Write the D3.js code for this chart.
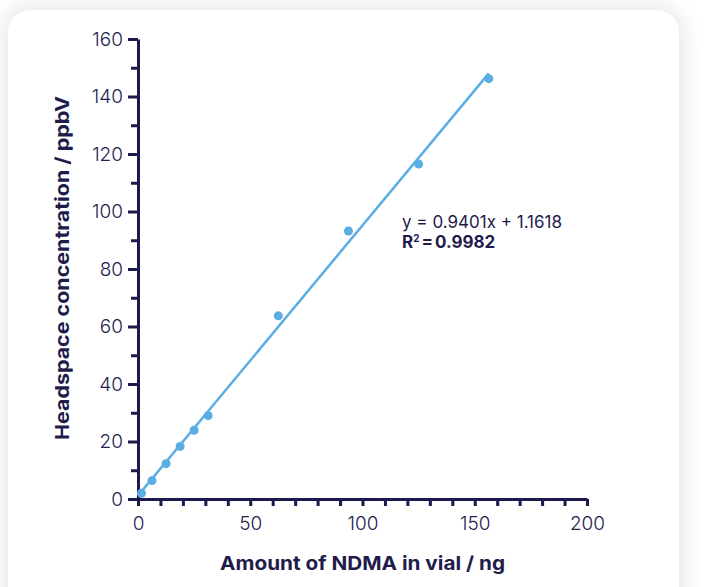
<!DOCTYPE html>
<html>
<head>
<meta charset="utf-8">
<script src="https://cdn.jsdelivr.net/npm/d3@7"></script>
<style>
  html, body { margin: 0; padding: 0; background: #ffffff; width: 715px; height: 587px; overflow: hidden; }
  .card {
    position: absolute; left: 8px; top: 10px; width: 671px; height: 620px;
    background: #ffffff; border-radius: 22px;
    box-shadow: 0 0 22px 4px rgba(0,0,0,0.10);
  }
  svg { position: absolute; left: 0; top: 0; }
  .tick text { font-family: Inter, "Noto Sans", sans-serif; font-weight: 300; font-size: 19px; fill: #25224f; }
  .title { font-family: Inter, "Liberation Sans", sans-serif; font-weight: 700; font-size: 19px; fill: #1f1c4c; }
  .eq { font-family: Inter, "Noto Sans", sans-serif; font-size: 17px; fill: #1f1c4c; }
</style>
</head>
<body>
<div class="card"></div>
<svg id="chart" width="715" height="587"></svg>
<script>
// NDMA spiked into vial (ng) vs measured headspace concentration (ppbV)
const amountNg = [1.56, 6.25, 12.5, 18.75, 25, 31.25, 62.5, 93.75, 125, 156.25];
const headspacePpbv = [2.0, 6.4, 12.3, 18.3, 23.9, 29.0, 63.7, 93.2, 116.5, 146.2];

// Linear fit reported on the chart
const slope = 0.9401;
const intercept = 1.1618;
const rSquared = "0.9982";

const xMajorTicks = [0, 50, 100, 150, 200];
const yMajorTicks = [0, 20, 40, 60, 80, 100, 120, 140, 160];

const axisColor = "#1c1a4b";
const seriesColor = "#5aaee3";

const margin = { left: 138, top: 39, right: 128, bottom: 88 };
const width = 715 - margin.left - margin.right;
const height = 587 - margin.top - margin.bottom;

const svg = d3.select("#chart");
const g = svg.append("g").attr("transform", `translate(${margin.left},${margin.top})`);

const x = d3.scaleLinear().domain([0, 200]).range([0, width]);
const y = d3.scaleLinear().domain([0, 160]).range([height, 0]);

// Minor ticks every 10 units
const xMinor = d3.range(0, 201, 10);
const yMinor = d3.range(10, 160, 20);

const xAxis = g.append("g")
  .attr("transform", `translate(0,${height})`)
  .call(d3.axisBottom(x).tickValues(xMinor).tickSize(7).tickSizeOuter(0).tickPadding(11)
    .tickFormat(d => xMajorTicks.includes(d) ? d : ""));

const yAxisMinor = g.append("g")
  .call(d3.axisLeft(y).tickValues(yMinor).tickSize(7).tickSizeOuter(0).tickFormat(""));
yAxisMinor.select(".domain").remove();

const yAxis = g.append("g")
  .call(d3.axisLeft(y).tickValues(yMajorTicks).tickSize(10).tickSizeOuter(0).tickPadding(5));

[xAxis, yAxis, yAxisMinor].forEach(ax => {
  ax.selectAll(".domain").attr("stroke", axisColor).attr("stroke-width", 3);
  ax.selectAll(".tick line").attr("stroke", axisColor).attr("stroke-width", 3);
});

// Regression line across the measured range
const fitX = [0, d3.max(amountNg)];
g.append("line")
  .attr("x1", x(fitX[0])).attr("y1", y(slope * fitX[0] + intercept))
  .attr("x2", x(fitX[1])).attr("y2", y(slope * fitX[1] + intercept))
  .attr("stroke", seriesColor).attr("stroke-width", 2.5);

g.selectAll("circle.pt")
  .data(amountNg.map((v, i) => [v, headspacePpbv[i]]))
  .join("circle")
  .attr("class", "pt")
  .attr("cx", d => x(d[0]))
  .attr("cy", d => y(d[1]))
  .attr("r", 4.5)
  .attr("fill", seriesColor);

// Fit equation
svg.append("text").attr("class", "eq").attr("x", 402).attr("y", 228)
  .attr("textLength", 160).attr("lengthAdjust", "spacingAndGlyphs")
  .text(`y = ${slope}x + ${intercept}`);
const r2 = svg.append("text").attr("class", "eq").attr("x", 402).attr("y", 248).attr("font-weight", 700);
r2.append("tspan").text("R");
r2.append("tspan").attr("font-size", "10px").attr("dy", -6).text("2");
r2.append("tspan").attr("dy", 6).attr("dx", 2).text("=");
r2.append("tspan").attr("dx", 2).text(rSquared);

// Axis titles
svg.append("text").attr("class", "title")
  .attr("x", 220).attr("y", 570)
  .attr("textLength", 285).attr("lengthAdjust", "spacingAndGlyphs")
  .text("Amount of NDMA in vial / ng");

svg.append("text").attr("class", "title")
  .attr("transform", "translate(69,440) rotate(-90)")
  .attr("textLength", 344).attr("lengthAdjust", "spacingAndGlyphs")
  .text("Headspace concentration / ppbV");
</script>
</body>
</html>
